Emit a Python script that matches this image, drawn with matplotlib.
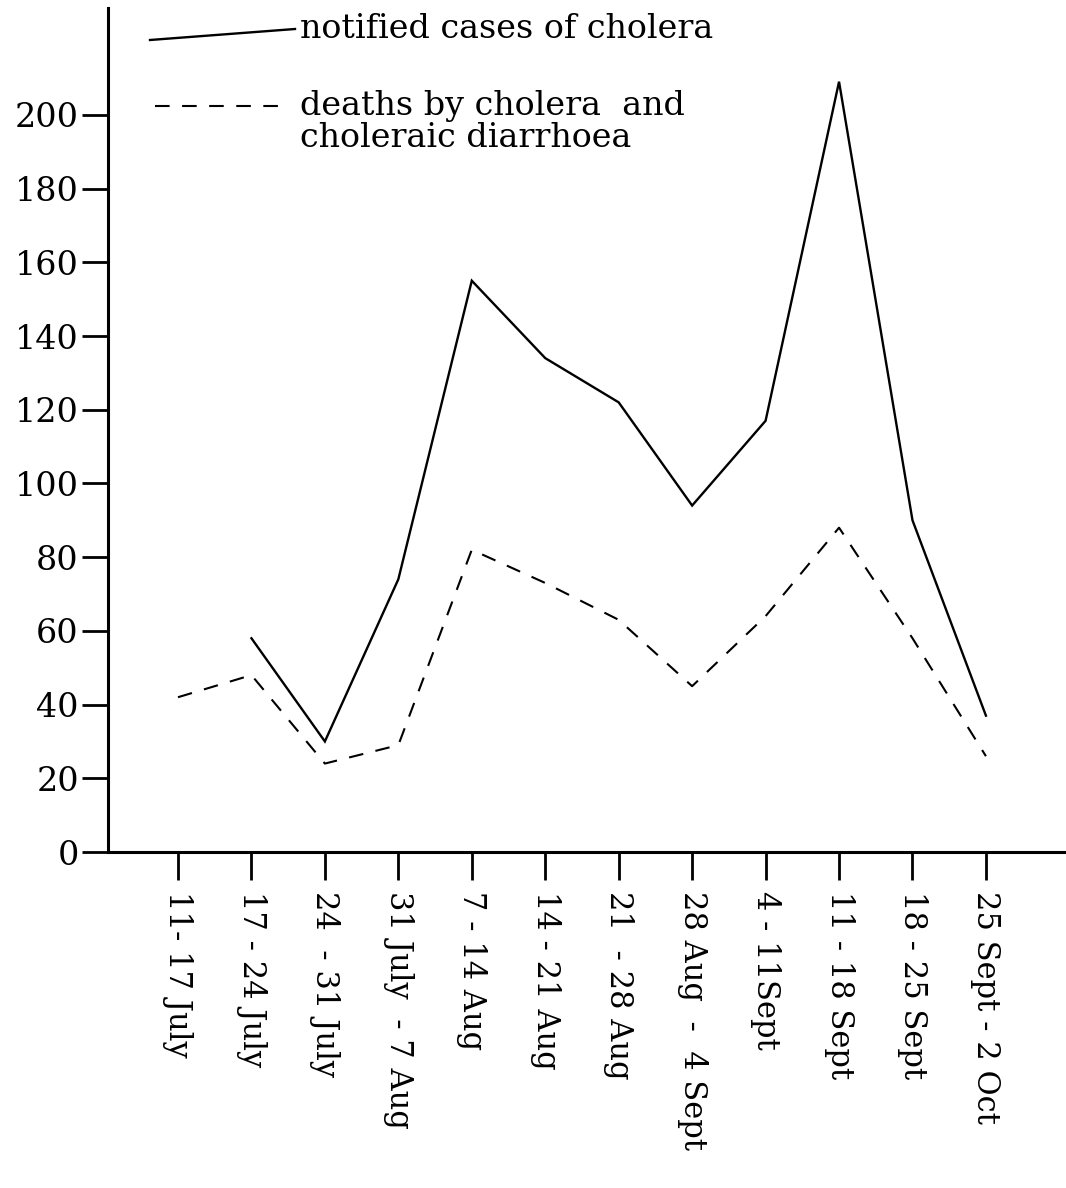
import matplotlib
matplotlib.use("Agg")
import matplotlib.pyplot as plt
from matplotlib.lines import Line2D

# Weekly periods, July to October
weeks = ["11- 17 July", "17 - 24 July", "24  - 31 July", "31 July  - 7 Aug",
         "7 - 14 Aug", "14 - 21 Aug", "21  - 28 Aug", "28 Aug  -  4 Sept",
         "4 - 11Sept", "11 - 18 Sept", "18 - 25 Sept", "25 Sept - 2 Oct"]

# Notified cases of cholera (no figure for the first week)
cases = [None, 58, 30, 74, 155, 134, 122, 94, 117, 209, 90, 37]

# Deaths by cholera and choleraic diarrhoea
deaths = [42, 48, 24, 29, 82, 73, 63, 45, 64, 88, 58, 26]

yticks = [0, 20, 40, 60, 80, 100, 120, 140, 160, 180, 200]

FONT = "DejaVu Serif"

fig = plt.figure(figsize=(10.66, 11.88), dpi=100)
ax = fig.add_axes([0.1013, 0.2828, 0.8987, 0.7105])

x = list(range(len(weeks)))
cx = [i for i, v in zip(x, cases) if v is not None]
cy = [v for v in cases if v is not None]
ax.plot(cx, cy, color="black", lw=1.7, solid_joinstyle="miter")
ax.plot(x, deaths, color="black", lw=1.5, dashes=(7, 6))

ax.set_xlim(-0.953, 12.09)
ax.set_ylim(0, 229)

for s in ("top", "right"):
    ax.spines[s].set_visible(False)
for s in ("left", "bottom"):
    ax.spines[s].set_linewidth(2.2)

ax.set_yticks(yticks)
ax.set_yticklabels([str(v) for v in yticks], fontsize=24, family=FONT)
ax.tick_params(axis="y", length=19, width=2, pad=2, direction="out")

ax.set_xticks(x)
ax.set_xticklabels(weeks, rotation=270, fontsize=22, family=FONT,
                   ha="center", va="top")
ax.tick_params(axis="x", length=20, width=2, pad=8, direction="out")

# Hand-drawn key at the top of the plot
fig.lines.append(Line2D([150 / 1066, 295 / 1066], [1 - 40 / 1188, 1 - 29 / 1188],
                        transform=fig.transFigure, color="black", lw=1.7))
fig.text(300 / 1066, 1 - 29 / 1188, "notified cases of cholera",
         fontsize=24, family=FONT, va="center", ha="left")
fig.lines.append(Line2D([155 / 1066, 283 / 1066], [1 - 106 / 1188, 1 - 106 / 1188],
                        transform=fig.transFigure, color="black", lw=1.5,
                        dashes=(7, 6)))
fig.text(300 / 1066, 1 - 122 / 1188, "deaths by cholera  and\ncholeraic diarrhoea",
         fontsize=24, family=FONT, va="center", ha="left", linespacing=1.0)

fig.savefig("out.png", dpi=100, facecolor="white")
